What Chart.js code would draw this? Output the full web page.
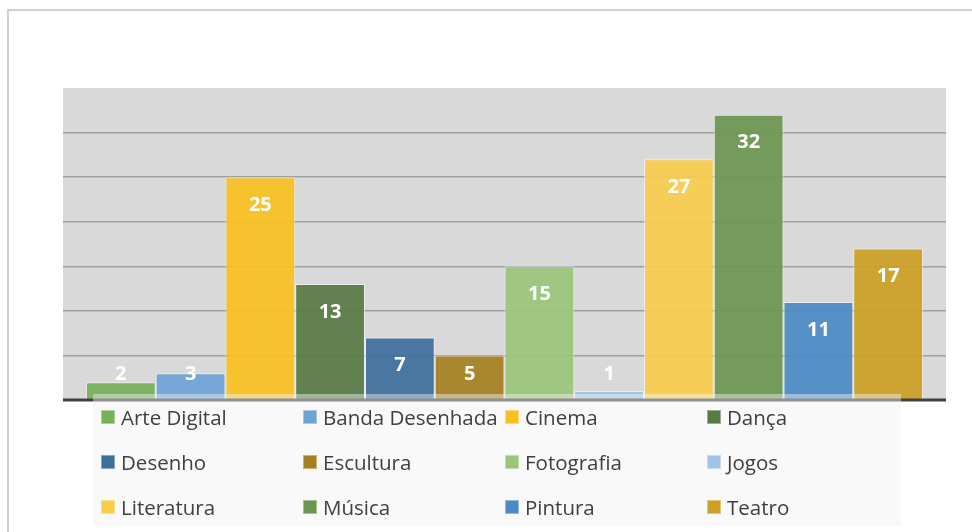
<!DOCTYPE html>
<html><head><meta charset="utf-8">
<script src="https://cdn.jsdelivr.net/npm/chart.js@4/dist/chart.umd.min.js"></script>
<style>
html,body{margin:0;padding:0;background:#fff;overflow:hidden;}
#wrap{position:relative;width:972px;height:532px;overflow:hidden;}
#frame{position:absolute;left:7px;top:9px;width:990px;height:550px;border:2px solid #d0d0d0;box-sizing:border-box;}
#c{position:absolute;left:0;top:0;}
#legend{position:absolute;left:93px;top:394px;width:808px;height:132px;background:rgba(242,242,242,0.45);display:grid;grid-template-columns:repeat(4,202px);grid-auto-rows:45px;padding-left:8px;box-sizing:border-box;font-family:"Open Sans",sans-serif;font-size:20.5px;color:#404040;}
.item{display:flex;align-items:center;white-space:nowrap;}
.box{width:14px;height:14px;box-sizing:border-box;margin-right:6px;border:1px solid rgba(255,255,255,0.4);}
</style></head>
<body>
<div id="wrap">
<div id="frame"></div>
<canvas id="c" width="972" height="532"></canvas>
<div id="legend"></div>
</div>
<script>
const categories = ['Arte Digital','Banda Desenhada','Cinema','Dança','Desenho','Escultura','Fotografia','Jogos','Literatura','Música','Pintura','Teatro'];
const values = [2,3,25,13,7,5,15,1,27,32,11,17];
const colors = ['#77b05a','#6ea3d6','#f8c120','#587a44','#3e6f9c','#a58020','#9bc57b','#a0c3e6','#f8cd4c','#6b9650','#4a8bc6','#cca024'];
const yTicks = [0,5,10,15,20,25,30,35];

const datasets = categories.map((name,i)=>({
  label:name,
  data:[values[i]],
  backgroundColor:colors[i]+'EB',
  borderColor:'rgba(255,255,255,0.55)',
  borderWidth:1,
  borderSkipped:'bottom',
  barPercentage:1,
  categoryPercentage:0.948
}));

const bgPlugin = {
  id:'plotBg',
  beforeDraw(chart){
    const {ctx, chartArea:a} = chart;
    ctx.save(); ctx.fillStyle='#d9d9d9';
    ctx.fillRect(a.left,a.top,a.right-a.left,a.bottom-a.top);
    ctx.restore();
  }
};
const axisPlugin = {
  id:'baseAxis',
  afterDatasetsDraw(chart){
    const {ctx, chartArea:a} = chart;
    const y = chart.scales.y.getPixelForValue(0);
    ctx.save(); ctx.strokeStyle='#404040'; ctx.lineWidth=3;
    ctx.beginPath(); ctx.moveTo(a.left,y); ctx.lineTo(a.right,y); ctx.stroke();
    ctx.restore();
  }
};
const labelPlugin = {
  id:'valueLabels',
  afterDatasetsDraw(chart){
    const ctx=chart.ctx;
    ctx.save();
    ctx.font='bold 20px "Open Sans"';
    ctx.fillStyle='#ffffff'; ctx.textAlign='center'; ctx.textBaseline='middle';
    chart.data.datasets.forEach((ds,i)=>{
      chart.getDatasetMeta(i).data.forEach((bar,j)=>{
        const y=Math.min(bar.y+28, bar.base-25);
        ctx.fillText(String(ds.data[j]), bar.x, y);
      });
    });
    ctx.restore();
  }
};

const chart = new Chart(document.getElementById('c'),{
  type:'bar',
  data:{labels:[''], datasets},
  options:{
    responsive:false, animation:false,
    layout:{padding:{left:63,right:26,top:88,bottom:132}},
    plugins:{legend:{display:false},tooltip:{enabled:false}},
    scales:{
      x:{display:false},
      y:{min:0,max:35,
         afterBuildTicks(s){ s.ticks = yTicks.map(v=>({value:v})); },
         afterFit(s){ s.width=0; },
         ticks:{display:false},
         border:{display:false},
         grid:{drawTicks:false,lineWidth:1.5,
               color:c=>(c.tick&&(c.tick.value===0||c.tick.value===35))?'rgba(0,0,0,0)':'#a0a0a0'}
      }
    }
  },
  plugins:[bgPlugin,axisPlugin,labelPlugin]
});

const leg = document.getElementById('legend');
Chart.defaults.plugins.legend.labels.generateLabels(chart).forEach(it=>{
  const d=document.createElement('div'); d.className='item';
  const b=document.createElement('span'); b.className='box';
  b.style.background=colors[it.datasetIndex];
  const t=document.createElement('span'); t.textContent=it.text;
  d.appendChild(b); d.appendChild(t); leg.appendChild(d);
});
</script>
</body></html>
